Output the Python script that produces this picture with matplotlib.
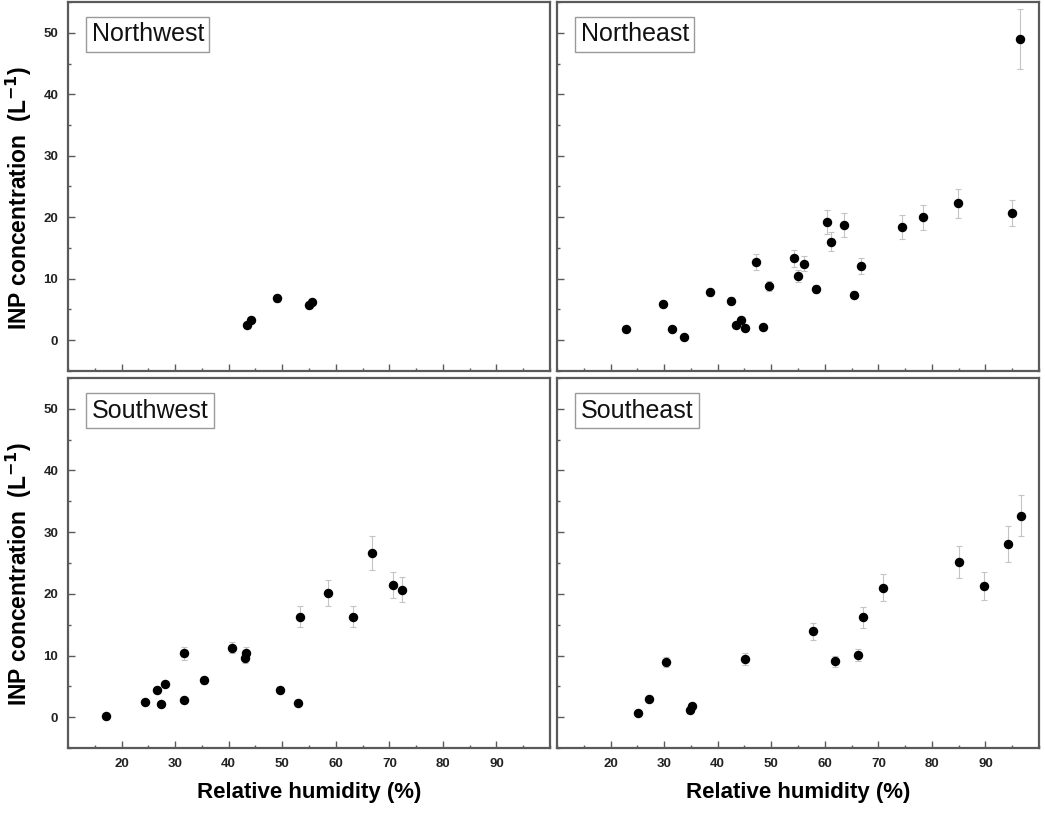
import numpy as np
import matplotlib.pyplot as plt
from matplotlib.ticker import MultipleLocator

plt.rcParams['font.family'] = ['Liberation Sans', 'DejaVu Sans']

# Dados: umidade relativa (%), concentração INP (L^-1), erro
nw_rh = [43.4, 44.2, 49.1, 55.0, 55.6]
nw_inp = [2.45, 3.25, 6.8, 5.7, 6.25]
nw_err = [0.3, 0.35, 0.5, 0.5, 0.5]

ne_rh = [22.9, 29.8, 31.5, 33.8, 38.5, 42.5, 43.45, 44.3, 45.1, 47.2, 48.5, 49.6, 54.3,
         55.0, 56.1, 58.4, 60.4, 61.2, 63.5, 65.5, 66.7, 74.4, 78.3, 84.9, 94.9, 96.4]
ne_inp = [1.75, 5.9, 1.75, 0.6, 7.8, 6.45, 2.5, 3.3, 2.0, 12.75, 2.2, 8.85, 13.3,
          10.4, 12.45, 8.35, 19.3, 16.05, 18.7, 7.4, 12.15, 18.4, 20.0, 22.25, 20.7, 49.0]
ne_err = [0.3, 0.5, 0.3, 0.2, 0.6, 0.6, 0.3, 0.4, 0.3, 1.3, 0.3, 0.8, 1.35,
          1.0, 1.2, 0.7, 1.95, 1.5, 1.95, 0.6, 1.3, 1.95, 2.0, 2.3, 2.15, 4.9]

sw_rh = [17.1, 24.3, 26.65, 27.4, 28.1, 31.6, 31.6, 35.4, 40.7, 43.0, 43.2, 49.6, 53.0,
         53.4, 58.6, 63.3, 66.8, 70.7, 72.4]
sw_inp = [0.26, 2.43, 4.47, 2.15, 5.34, 10.35, 2.8, 5.98, 11.27, 9.55, 10.4, 4.47, 2.26,
          16.3, 20.1, 16.3, 26.6, 21.4, 20.7]
sw_err = [0.2, 0.3, 0.4, 0.3, 0.5, 1.0, 0.3, 0.6, 0.9, 0.8, 0.9, 0.4, 0.3,
          1.7, 2.15, 1.7, 2.75, 2.1, 2.1]

se_rh = [25.1, 27.2, 30.4, 34.9, 35.3, 45.1, 57.8, 62.0, 66.2, 67.1, 70.9, 85.0, 89.7,
         94.2, 96.6]
se_inp = [0.64, 2.9, 8.9, 1.24, 1.78, 9.43, 13.9, 9.1, 10.1, 16.2, 21.0, 25.1, 21.3,
          28.1, 32.7]
se_err = [0.2, 0.3, 0.8, 0.2, 0.3, 0.9, 1.4, 0.9, 1.0, 1.7, 2.2, 2.6, 2.27, 2.97, 3.35]

panels = [
    ('Northwest', nw_rh, nw_inp, nw_err),
    ('Northeast', ne_rh, ne_inp, ne_err),
    ('Southwest', sw_rh, sw_inp, sw_err),
    ('Southeast', se_rh, se_inp, se_err),
]

W, H = 1045, 819
fig = plt.figure(figsize=(W / 100, H / 100), dpi=100)

# posições dos painéis em pixels (x0, y_topo, x1, y_base)
boxes = [(68, 2, 550, 371), (557, 2, 1039, 371),
         (68, 378, 550, 748), (557, 378, 1039, 748)]

spine_col = '#5a5a5a'
for i, ((name, x, y, e), (x0, yt, x1, yb)) in enumerate(zip(panels, boxes)):
    ax = fig.add_axes([x0 / W, 1 - yb / H, (x1 - x0) / W, (yb - yt) / H])
    ax.errorbar(x, y, yerr=e, fmt='none', ecolor='#c4c4c4', elinewidth=0.8,
                capsize=2.5, capthick=0.8, zorder=2)
    ax.plot(x, y, 'o', color='black', markersize=5.8, zorder=3)
    ax.set_xlim(10, 100)
    ax.set_ylim(-5, 55)
    ax.xaxis.set_major_locator(MultipleLocator(10))
    ax.xaxis.set_minor_locator(MultipleLocator(5))
    ax.yaxis.set_major_locator(MultipleLocator(10))
    ax.yaxis.set_minor_locator(MultipleLocator(5))
    ax.set_xticks(np.arange(20, 100, 10))
    ax.tick_params(which='both', direction='in', top=False, right=False,
                   color=spine_col, width=1.0)
    ax.tick_params(which='major', length=5, labelsize=9.5, pad=7)
    ax.tick_params(which='minor', length=2.5)
    for s in ax.spines.values():
        s.set_color(spine_col)
        s.set_linewidth(1.6)
    for lab in ax.get_xticklabels() + ax.get_yticklabels():
        lab.set_fontweight('bold')
        lab.set_color('#222222')
    if i % 2 == 1:
        ax.tick_params(labelleft=False)
    else:
        ax.set_ylabel('INP concentration  (L$^{\\mathbf{-1}}$)', fontsize=16.5,
                      fontweight='bold')
        ax.yaxis.set_label_coords(-0.071, 0.47)
    if i < 2:
        ax.tick_params(labelbottom=False)
    else:
        ax.set_xlabel('Relative humidity (%)', fontsize=16, fontweight='bold',
                      labelpad=9)
    ax.text(0.049, 0.912, name, transform=ax.transAxes, fontsize=18,
            ha='left', va='center', color='#111111',
            bbox=dict(boxstyle='square,pad=0.22', facecolor='white',
                      edgecolor='#9a9a9a', linewidth=1.0))

fig.savefig('out.png', dpi=100)
